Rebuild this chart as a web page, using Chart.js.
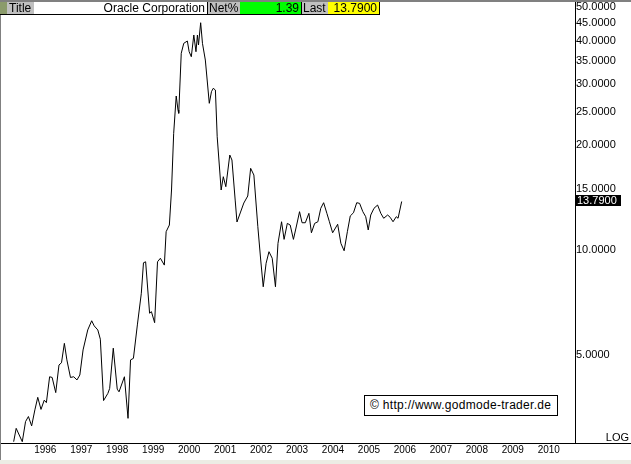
<!DOCTYPE html>
<html>
<head>
<meta charset="utf-8">
<script src="https://cdn.jsdelivr.net/npm/chart.js@4"></script>
<style>
  body { margin: 0; background: #fff; overflow: hidden; }
  #wrap { position: relative; width: 631px; height: 464px; font-family: "Liberation Sans", Arial, sans-serif; }
  #wrap canvas { position: absolute; left: 0; top: 0; }
  .hd { position: absolute; top: 2px; height: 12px; line-height: 12px; font-size: 12px; color: #000; white-space: nowrap; box-sizing: border-box; }
  #topline { position: absolute; left: 0; top: 0; width: 631px; height: 2px; background: #808080; }
  #leftline { position: absolute; left: 0; top: 0; width: 1px; height: 460px; background: #808080; }
  #hdline { position: absolute; left: 0; top: 14px; width: 380px; height: 1px; background: #000; }
  #bottomstrip { position: absolute; left: 0; top: 460px; width: 631px; height: 4px; background: #ecece4; }
  #copy { position: absolute; left: 364px; top: 395px; width: 194px; height: 21px; border: 1px solid #000; background: #fff;
          box-sizing: border-box; font-size: 12px; line-height: 19px; padding-left: 5px; letter-spacing: 0.3px; white-space: nowrap; }
  #log { position: absolute; right: 2px; top: 432px; font-size: 11px; line-height: 11px; }
</style>
</head>
<body>
<div id="wrap">
  <canvas id="oracleChart" width="631" height="464"></canvas>
  <div id="topline"></div>
  <div id="leftline"></div>
  <div class="hd" style="left:0;width:7px;background:#8b9b6b"></div>
  <div class="hd" style="left:7px;width:27px;background:#c0c0c0;padding-left:2px">Title</div>
  <div class="hd" style="left:34px;width:173px;background:#fff;text-align:right;padding-right:2px">Oracle Corporation</div>
  <div class="hd" style="left:207px;width:1px;background:#000"></div>
  <div class="hd" style="left:208px;width:32px;background:#c0c0c0;padding-left:1px">Net%</div>
  <div class="hd" style="left:240px;width:61px;background:#00ff00;text-align:right;padding-right:2px">1.39</div>
  <div class="hd" style="left:301px;width:1px;background:#000"></div>
  <div class="hd" style="left:302px;width:26px;background:#c0c0c0;padding-left:1px">Last</div>
  <div class="hd" style="left:328px;width:51px;background:#ffff00;text-align:right;padding-right:2px">13.7900</div>
  <div class="hd" style="left:379px;width:1px;height:13px;background:#000"></div>
  <div id="hdline"></div>
  <div id="copy">© http://www.godmode-trader.de</div>
  <div id="log">LOG</div>
  <div id="bottomstrip"></div>
</div>
<script>
// Oracle Corporation, closes (decimal years)
const years = [
  1995.12, 1995.19, 1995.36, 1995.45, 1995.53, 1995.62, 1995.71, 1995.79, 1995.88, 1995.97,
  1996.03, 1996.12, 1996.19, 1996.29, 1996.38, 1996.45, 1996.53, 1996.60, 1996.70, 1996.79, 1996.88, 1996.96,
  1997.05, 1997.18, 1997.29, 1997.36, 1997.46, 1997.53, 1997.62, 1997.74, 1997.79, 1997.89,
  1998.00, 1998.05, 1998.20, 1998.30, 1998.37, 1998.45, 1998.56, 1998.67, 1998.73, 1998.79, 1998.90, 1998.95,
  1999.04, 1999.12, 1999.20, 1999.31, 1999.36, 1999.45, 1999.51, 1999.57, 1999.64, 1999.69, 1999.71, 1999.78, 1999.85, 1999.95,
  2000.00, 2000.06, 2000.13, 2000.19, 2000.23, 2000.26, 2000.32, 2000.37, 2000.45, 2000.56, 2000.62, 2000.67, 2000.73, 2000.78, 2000.89, 2000.95,
  2001.02, 2001.13, 2001.19, 2001.28, 2001.33, 2001.43, 2001.52, 2001.63, 2001.71, 2001.80, 2001.91, 2001.99,
  2002.06, 2002.14, 2002.22, 2002.31, 2002.40, 2002.47, 2002.57, 2002.64, 2002.73, 2002.81, 2002.90, 2002.99,
  2003.07, 2003.14, 2003.23, 2003.33, 2003.40, 2003.49, 2003.58, 2003.66, 2003.74, 2003.83, 2003.90, 2003.99,
  2004.13, 2004.22, 2004.31, 2004.40, 2004.48, 2004.57, 2004.66, 2004.74, 2004.83, 2004.91, 2004.98,
  2005.05, 2005.14, 2005.24, 2005.33, 2005.41, 2005.52, 2005.59, 2005.67, 2005.76, 2005.81, 2005.91,
];
const prices = [
  2.81, 3.07, 2.81, 3.21, 3.32, 3.12, 3.47, 3.77, 3.48, 3.70,
  3.64, 4.32, 4.30, 3.89, 4.67, 4.74, 5.39, 4.83, 4.30, 4.32, 4.23, 4.37,
  5.16, 5.89, 6.26, 6.05, 5.89, 5.54, 3.69, 3.87, 4.00, 5.22,
  3.98, 3.91, 4.32, 3.28, 4.83, 4.88, 6.09, 7.51, 9.19, 9.25, 6.58, 6.65,
  6.18, 9.25, 9.47, 9.05, 11.29, 11.80, 14.88, 21.66, 27.73, 25.27, 24.73, 36.79, 39.31, 39.91,
  37.18, 35.97, 41.53, 37.18, 41.53, 38.87, 45.05, 39.31, 35.19, 26.42, 28.53, 29.18, 28.85, 21.17, 14.88, 16.25,
  15.21, 18.76, 18.15, 13.92, 12.04, 12.86, 13.65, 14.30, 17.18, 16.43, 11.67, 9.36,
  7.84, 9.16, 9.89, 9.47, 7.84, 10.45, 12.06, 10.73, 11.93, 11.80, 10.73, 11.80,
  12.89, 11.98, 11.98, 12.75, 11.21, 11.93, 12.06, 13.18, 13.68, 12.75, 12.06, 11.21,
  11.86, 10.45, 9.95, 11.29, 12.53, 12.80, 13.68, 13.62, 12.89, 12.47, 11.42,
  12.61, 13.18, 13.47, 12.75, 12.34, 12.61, 12.42, 12.06, 12.47, 12.34, 13.79,
];
const yearTicks = [1996, 1997, 1998, 1999, 2000, 2001, 2002, 2003, 2004, 2005, 2006, 2007, 2008, 2009, 2010];
const priceTicks = [5, 10, 15, 20, 25, 30, 35, 40, 45, 50];
const lastPrice = 13.79;

const FONT = '"Liberation Sans", Arial, sans-serif';

// last price marker + bottom line running under the price axis
const lastMarker = {
  id: "lastMarker",
  afterDraw(chart) {
    const ctx = chart.ctx;
    const area = chart.chartArea;
    const y = Math.round(chart.scales.y.getPixelForValue(lastPrice));
    ctx.save();
    ctx.fillStyle = "#000";
    ctx.fillRect(Math.round(area.right) + 1, y - 6, 45, 11);
    ctx.fillStyle = "#fff";
    ctx.font = "11px " + FONT;
    ctx.textBaseline = "middle";
    ctx.fillText(lastPrice.toFixed(4), Math.round(area.right) + 2, y);
    ctx.fillStyle = "#000";
    ctx.fillRect(Math.round(area.right), Math.round(area.bottom), chart.width - area.right, 1);
    ctx.restore();
  },
};

const ctx = document.getElementById("oracleChart").getContext("2d");
new Chart(ctx, {
  type: "line",
  data: {
    datasets: [
      {
        data: years.map((x, i) => ({ x: x, y: prices[i] })),
        borderColor: "#000",
        borderWidth: 1,
        pointRadius: 0,
        tension: 0,
        fill: false,
      },
    ],
  },
  options: {
    responsive: false,
    animation: false,
    events: [],
    layout: { padding: { top: 2, left: 0, right: 0, bottom: 0 } },
    plugins: {
      legend: { display: false },
      tooltip: { enabled: false },
    },
    scales: {
      x: {
        type: "linear",
        position: "bottom",
        min: 1994.74,
        max: 2010.73,
        afterBuildTicks: (s) => { s.ticks = yearTicks.map((v) => ({ value: v })); },
        afterFit: (s) => { s.height = 21; s.paddingLeft = 0; s.paddingRight = 0; },
        grid: { display: false, drawTicks: false, tickLength: 0 },
        border: { display: true, color: "#000", width: 1 },
        ticks: {
          color: "#000",
          font: { family: FONT, size: 10 },
          padding: 1,
          maxRotation: 0,
          autoSkip: false,
          callback: (v) => String(v),
        },
      },
      y: {
        type: "logarithmic",
        position: "right",
        min: 2.786,
        max: 51.68,
        afterBuildTicks: (s) => { s.ticks = priceTicks.map((v) => ({ value: v })); },
        afterFit: (s) => { s.width = 56; s.paddingTop = 0; s.paddingBottom = 0; },
        grid: { display: false, drawTicks: false, tickLength: 0 },
        border: { display: true, color: "#000", width: 1 },
        ticks: {
          color: "#000",
          font: { family: FONT, size: 11 },
          padding: 1,
          autoSkip: false,
          callback: (v) => Number(v).toFixed(4),
        },
      },
    },
  },
  plugins: [lastMarker],
});
</script>
</body>
</html>
